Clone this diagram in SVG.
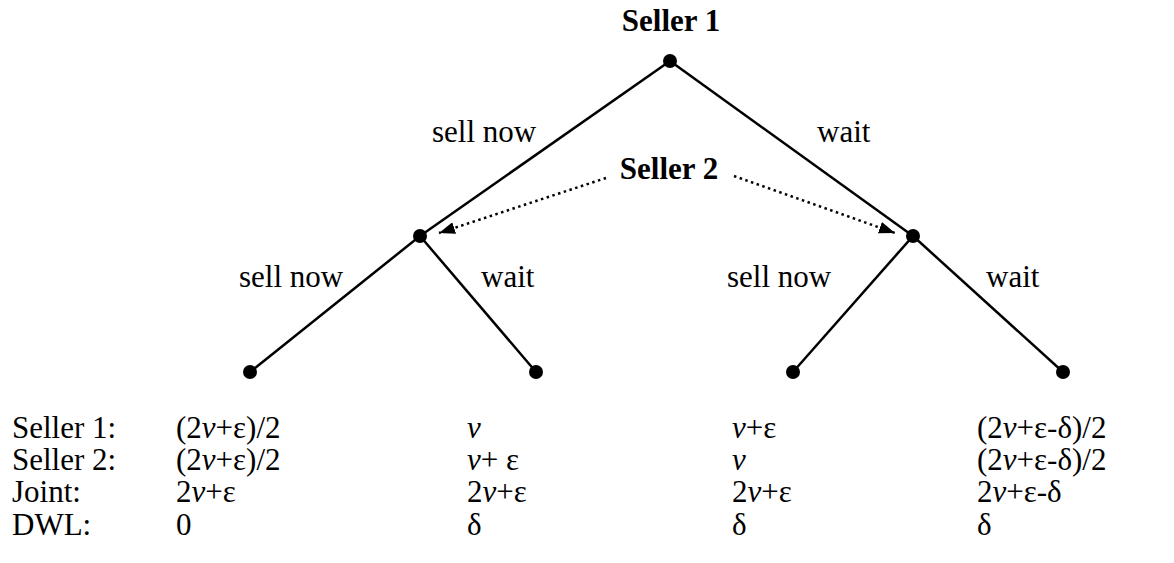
<svg xmlns="http://www.w3.org/2000/svg" width="1174" height="563" viewBox="0 0 1174 563">
<style>
text{font-family:"Liberation Serif","Times New Roman",serif;font-size:31px;fill:#000}
.b{font-weight:bold}
.e{stroke:#000;stroke-width:2.5;fill:none}
.d{stroke:#000;stroke-width:2.5;fill:none;stroke-dasharray:2.5 3.5}
.n{fill:#000}
.i{font-style:italic}
</style>
<defs>
<marker id="ah" viewBox="0 0 16 12" refX="16" refY="6" markerWidth="16" markerHeight="12" markerUnits="userSpaceOnUse" orient="auto">
<path d="M0,0 L16,6 L0,12 z" fill="#000"/>
</marker>
</defs>
<rect width="1174" height="563" fill="#fff"/>
<g id="edges">
<line class="e" x1="670" y1="61" x2="420" y2="236"/>
<line class="e" x1="670" y1="61" x2="913" y2="236"/>
<line class="e" x1="420" y1="236" x2="250" y2="372"/>
<line class="e" x1="420" y1="236" x2="536" y2="372"/>
<line class="e" x1="913" y1="236" x2="793" y2="372"/>
<line class="e" x1="913" y1="236" x2="1063" y2="372"/>
<path class="d" d="M606,178 L439,233" marker-end="url(#ah)"/>
<path class="d" d="M734,176 L895,233" marker-end="url(#ah)"/>
</g>
<g id="seller1"><circle class="n" cx="670" cy="61" r="7"/><text class="b" x="671" y="31" text-anchor="middle">Seller 1</text></g>
<g id="seller2-left"><circle class="n" cx="420" cy="236" r="7"/></g>
<g id="seller2-right"><circle class="n" cx="913" cy="236" r="7"/></g>
<g id="seller2-label"><text class="b" x="669" y="179" text-anchor="middle">Seller 2</text></g>
<g id="leaf1"><circle class="n" cx="250" cy="372" r="7"/></g>
<g id="leaf2"><circle class="n" cx="536" cy="372" r="7"/></g>
<g id="leaf3"><circle class="n" cx="793" cy="372" r="7"/></g>
<g id="leaf4"><circle class="n" cx="1063" cy="372" r="7"/></g>
<g id="edge-labels">
<text x="432" y="142">sell now</text>
<text x="817" y="142">wait</text>
<text x="239" y="287">sell now</text>
<text x="481" y="287">wait</text>
<text x="727" y="287">sell now</text>
<text x="986" y="287">wait</text>
</g>
<g id="payoffs">
<text x="12" y="438">Seller 1:</text>
<text x="12" y="470">Seller 2:</text>
<text x="12" y="502">Joint:</text>
<text x="12" y="535">DWL:</text>
<text x="176" y="438">(2<tspan class="i">v</tspan>+ε)/2</text>
<text x="176" y="470">(2<tspan class="i">v</tspan>+ε)/2</text>
<text x="176" y="502">2<tspan class="i">v</tspan>+ε</text>
<text x="176" y="535">0</text>
<text x="467" y="438" class="i">v</text>
<text x="467" y="470"><tspan class="i">v</tspan>+ ε</text>
<text x="467" y="502">2<tspan class="i">v</tspan>+ε</text>
<text x="467" y="535">δ</text>
<text x="732" y="438"><tspan class="i">v</tspan>+ε</text>
<text x="732" y="470" class="i">v</text>
<text x="732" y="502">2<tspan class="i">v</tspan>+ε</text>
<text x="732" y="535">δ</text>
<text x="977" y="438">(2<tspan class="i">v</tspan>+ε-δ)/2</text>
<text x="977" y="470">(2<tspan class="i">v</tspan>+ε-δ)/2</text>
<text x="977" y="502">2<tspan class="i">v</tspan>+ε-δ</text>
<text x="977" y="535">δ</text>
</g>
</svg>
